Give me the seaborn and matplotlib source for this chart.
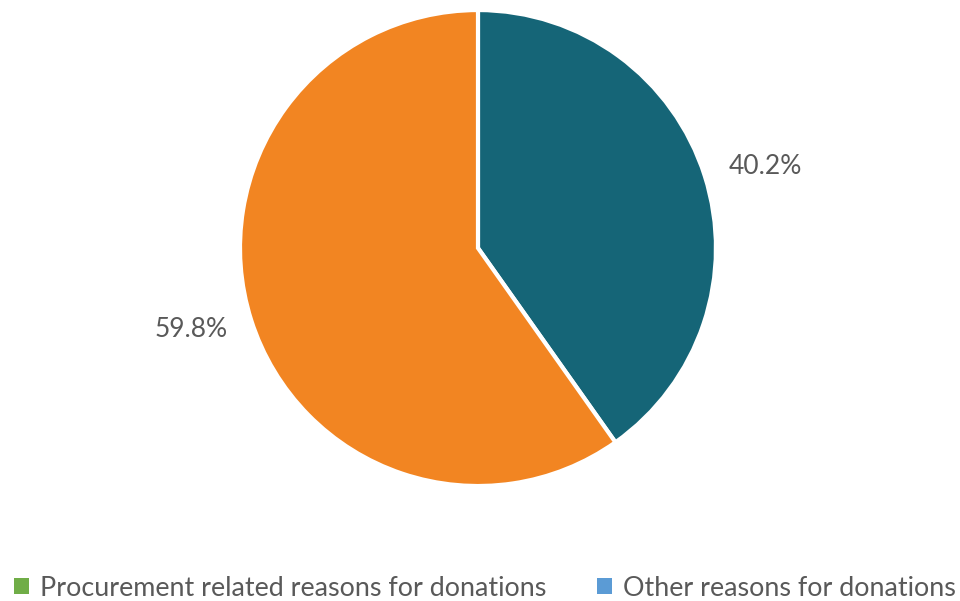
import matplotlib
matplotlib.use("Agg")
import numpy as np
import matplotlib.pyplot as plt
from matplotlib.patches import Patch
import seaborn as sns

sns.set_theme(style="white")
plt.rcParams["font.family"] = ["Lato", "DejaVu Sans"]

# Share of donations by reason
categories = ["Other reasons for donations", "Procurement related reasons for donations"]
shares = [40.2, 59.8]
wedge_colors = ["#156577", "#F28522"]

# Legend entries as they appear under the chart
legend_labels = ["Procurement related reasons for donations", "Other reasons for donations"]
legend_colors = ["#70AD47", "#5B9BD5"]

fig = plt.figure(figsize=(9.6, 6.01), dpi=100)
ax = fig.add_axes([0.25, 0.1913, 0.4958, 0.792])

wedges, texts, autotexts = ax.pie(
    shares,
    colors=wedge_colors,
    startangle=90,
    counterclock=False,
    radius=1.0,
    autopct="%.1f%%",
    pctdistance=1.25,
    wedgeprops=dict(edgecolor="white", linewidth=3),
    textprops=dict(color="#595959", fontsize=19),
)

# place the percentage labels just outside each wedge, nudged slightly clockwise
for w, t in zip(wedges, autotexts):
    ang = np.deg2rad((w.theta1 + w.theta2) / 2 - 1.8)
    t.set_position((1.255 * np.cos(ang), 1.255 * np.sin(ang)))

ax.set_xlim(-1, 1)
ax.set_ylim(-1, 1)
ax.set_aspect("equal")
ax.axis("off")

handles = [Patch(facecolor=c, edgecolor="none") for c in legend_colors]
fig.legend(
    handles, legend_labels,
    loc="lower center", bbox_to_anchor=(0.505, -0.04), ncol=2,
    frameon=False, fontsize=19.4, labelcolor="#595959",
    handlelength=0.55, handleheight=0.55, handletextpad=0.4, columnspacing=1.9,
)

fig.savefig("out.png", dpi=100)
